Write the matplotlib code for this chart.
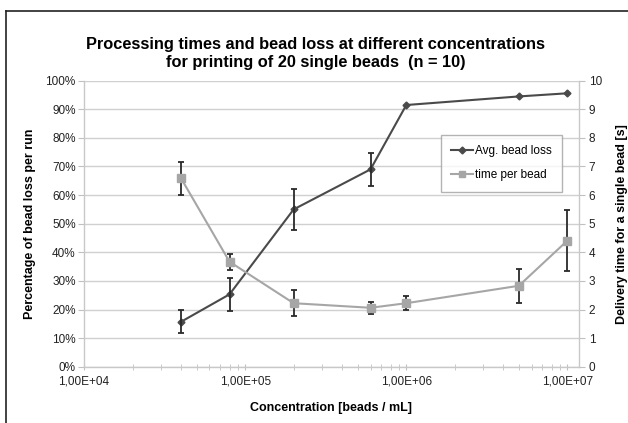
import matplotlib
matplotlib.use('Agg')
import numpy as np
import matplotlib.pyplot as plt
from matplotlib.ticker import FixedLocator, FuncFormatter, NullFormatter, LogLocator
from matplotlib.lines import Line2D

plt.rcParams['font.family'] = ['Liberation Sans', 'DejaVu Sans']

# dados
concentracao = [4e4, 8e4, 2e5, 6e5, 1e6, 5e6, 1e7]
perda_media = [15.7, 25.3, 55.0, 69.0, 91.5, 94.5, 95.6]          # %
perda_erro = [4.0, 5.7, 7.1, 5.8, 0.0, 0.0, 0.0]
tempo_por_bead = [6.59, 3.67, 2.22, 2.06, 2.22, 2.83, 4.41]       # s
tempo_erro = [0.58, 0.28, 0.46, 0.21, 0.25, 0.59, 1.07]

x_ticks = [1e4, 1e5, 1e6, 1e7]
x_tick_labels = ['1,00E+04', '1,00E+05', '1,00E+06', '1,00E+07']

W, H = 628, 423
fig = plt.figure(figsize=(W / 100, H / 100), dpi=100)
fig.patch.set_facecolor('white')

# moldura do gráfico (bordas superior e esquerda visíveis)
fig.add_artist(Line2D([6 / W, 6 / W], [0, 1 - 11 / H], color='#222222', lw=1.2, transform=fig.transFigure))
fig.add_artist(Line2D([6 / W, 1], [1 - 11 / H, 1 - 11 / H], color='#222222', lw=1.2, transform=fig.transFigure))

left, right, top, bottom = 84, 579, 80.7, 366.7
ax = fig.add_axes([left / W, 1 - bottom / H, (right - left) / W, (bottom - top) / H])
ax2 = ax.twinx()

grid_c = '#d0d0d0'
ax.set_xscale('log')
ax.set_xlim(1e4, 1.18e7)
ax.set_ylim(0, 100)
ax2.set_ylim(0, 10)

ax.set_yticks(range(0, 101, 10))
ax.yaxis.set_major_formatter(FuncFormatter(lambda v, p: f'{int(v)}%'))
ax2.set_yticks(range(0, 11))
ax.xaxis.set_major_locator(FixedLocator(x_ticks))
ax.set_xticklabels(x_tick_labels)
ax.xaxis.set_minor_locator(LogLocator(base=10, subs=range(2, 10)))
ax.xaxis.set_minor_formatter(NullFormatter())

ax.grid(axis='y', color=grid_c, lw=1.0)
ax.set_axisbelow(True)
for a in (ax, ax2):
    for s in a.spines.values():
        s.set_visible(False)
ax.spines['left'].set_visible(True)
ax.spines['bottom'].set_visible(True)
ax2.spines['right'].set_visible(True)
for s in (ax.spines['left'], ax.spines['bottom'], ax2.spines['right']):
    s.set_color('#c8c8c8')
    s.set_linewidth(1.0)

ax.tick_params(axis='both', which='both', color='#c0c0c0', labelsize=8.5, labelcolor='#222222')
ax.tick_params(axis='x', which='major', length=5, direction='inout', pad=4)
ax.tick_params(axis='x', which='minor', length=4, direction='inout')
ax.tick_params(axis='y', length=4, direction='out', pad=2)
ax2.tick_params(axis='y', length=4, direction='out', color='#c0c0c0', labelsize=8.5, labelcolor='#222222', pad=3)

x = np.array(concentracao)
perda = np.array(perda_media)
perda_e = np.array(perda_erro)
com_erro = perda_e > 0

# série da perda média
ax.plot(x, perda, color='#4a4a4a', lw=1.5, marker='D', ms=3.5, mfc='#4a4a4a', mec='#4a4a4a', zorder=3)
ax.errorbar(x[com_erro], perda[com_erro], yerr=perda_e[com_erro], fmt='none',
            ecolor='#2a2a2a', elinewidth=1.3, capsize=2.5, capthick=1.3, zorder=4)

# série do tempo por bead
ax2.errorbar(concentracao, tempo_por_bead, yerr=tempo_erro,
             color='#a6a6a6', lw=1.5, marker='s', ms=6, mfc='#a6a6a6', mec='#a6a6a6',
             ecolor='#2a2a2a', elinewidth=1.3, capsize=2.5, capthick=1.3, zorder=3)

ax.set_ylabel('Percentage of bead loss per run', fontsize=9, fontweight='bold', labelpad=7)
ax2.set_ylabel('Delivery time for a single bead [s]', fontsize=9, fontweight='bold', labelpad=10)
ax.set_xlabel('Concentration [beads / mL]', fontsize=9, fontweight='bold', labelpad=10)

fig.text(316 / W, 1 - 54 / H, 'Processing times and bead loss at different concentrations\nfor printing of 20 single beads  (n = 10)',
         ha='center', va='center', fontsize=11.8, fontweight='bold', linespacing=1.25)

handles = [Line2D([], [], color='#4a4a4a', lw=1.5, marker='D', ms=3.5),
           Line2D([], [], color='#a6a6a6', lw=1.5, marker='s', ms=5)]
leg = ax2.legend(handles, ['Avg. bead loss', 'time per bead'],
                 loc='upper left', bbox_to_anchor=((440.7 - left) / (right - left), 1 - (134.7 - top) / (bottom - top)),
                 fontsize=8.5, frameon=True, fancybox=False, edgecolor='#a0a0a0',
                 handlelength=1.8, handletextpad=0.2, labelspacing=1.0, borderpad=0.9,
                 borderaxespad=0)
leg.get_frame().set_linewidth(1.0)

fig.savefig('out.png', dpi=100, facecolor='white')
